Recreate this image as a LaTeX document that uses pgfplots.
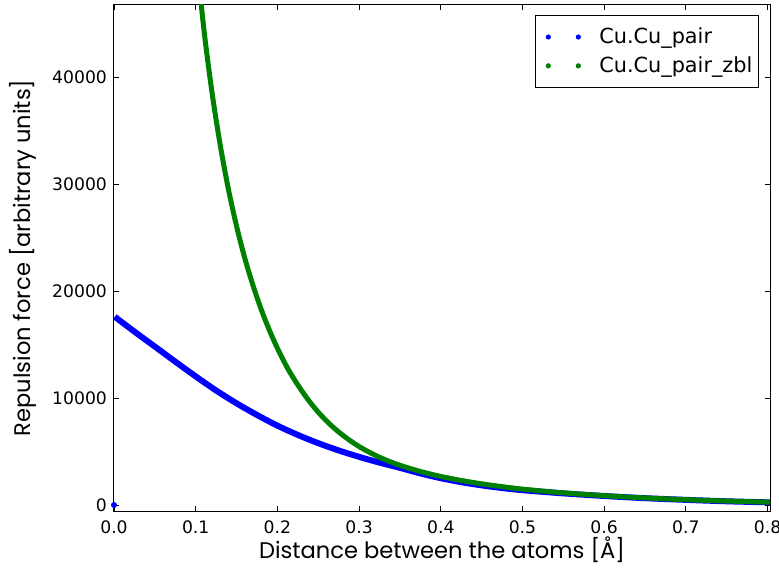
\documentclass[border=0pt]{standalone}
\usepackage{fontspec}
\setmainfont{DejaVu Sans}
\newfontfamily\labelfont{Poppins}
\usepackage{pgfplots}
\pgfplotsset{compat=1.18}
\definecolor{mplblue}{RGB}{0,0,255}
\definecolor{mplgreen}{RGB}{0,128,0}
\begin{document}
\begin{tikzpicture}
\begin{axis}[
  name=ax,
  scale only axis,
  width=328pt, height=253pt,
  xmin=0, xmax=0.803,
  ymin=-560, ymax=46800,
  xtick={0,0.1,0.2,0.3,0.4,0.5,0.6,0.7,0.8},
  ytick={0,10000,20000,30000,40000},
  scaled y ticks=false,
  scaled x ticks=false,
  /pgf/number format/assume math mode=true,
  xticklabel style={/pgf/number format/.cd, fixed, fixed zerofill, precision=1, /tikz/.cd, font=\fontsize{8.6}{10}\selectfont, yshift=-1.5pt},
  yticklabel style={/pgf/number format/.cd, fixed, 1000 sep={}, /tikz/.cd, font=\fontsize{8.6}{10}\selectfont},
  tick align=inside,
  xtick pos=both, ytick pos=both,
  major tick length=2.5pt,
  tick style={black, line width=0.4pt},
  axis line style={black, line width=0.5pt},
  xlabel={Distance between the atoms [Å]},
  ylabel={Repulsion force [arbitrary units]},
  xlabel style={font=\labelfont\fontsize{11.3}{14}\selectfont, at={(axis description cs:0.5,-0.0771)}, anchor=center},
  ylabel style={font=\labelfont\fontsize{11.3}{14}\selectfont, at={(axis description cs:-0.1387,0.5)}, anchor=center},
  legend style={at={(0.983,0.980)}, anchor=north east, draw=black, line width=0.5pt,
    font=\fontsize{10.4}{12}\selectfont, row sep=1pt, inner xsep=1pt, inner ysep=4pt},
  legend cell align=left,
  legend image code/.code={
    \path[draw=none] (0pt,0pt) -- (29pt,0pt);
    \fill[draw=none] (5.5pt,0pt) circle (1.3pt);
    \fill[draw=none] (20.5pt,0pt) circle (1.3pt);
  },
]
\addplot[mplblue, line width=3.0pt, smooth, forget plot] coordinates {
(0.001,17620) (0.025,16230) (0.05,14830) (0.075,13420) (0.1,12040)
(0.125,10720) (0.15,9520) (0.175,8430) (0.2,7430) (0.225,6560)
(0.25,5790) (0.275,5110) (0.3,4510) (0.325,3970) (0.35,3480)
(0.375,2960) (0.4,2510) (0.425,2140) (0.45,1840) (0.475,1590)
(0.5,1390) (0.55,1090) (0.6,845) (0.65,640) (0.7,483)
(0.75,349) (0.8,252) (0.803,245)
};
\addplot[mplblue, only marks, mark=*, mark size=1.3pt, forget plot] coordinates {(0,0)};
\addplot[mplgreen, line width=2.5pt, smooth, forget plot] coordinates {
(0.1,52000) (0.11,44540) (0.12,38600) (0.13,33700) (0.14,29580)
(0.15,26110) (0.16,23130) (0.17,20590) (0.18,18350) (0.19,16400)
(0.2,14680) (0.2125,12800) (0.225,11240) (0.2375,9870) (0.25,8690)
(0.2625,7690) (0.275,6840) (0.2875,6110) (0.3,5475) (0.3125,4940)
(0.325,4470) (0.3375,4070) (0.35,3720) (0.375,3140) (0.4,2675)
(0.425,2300) (0.45,1985) (0.475,1720) (0.5,1490)
(0.55,1139) (0.6,873) (0.65,667) (0.7,504) (0.75,373)
(0.8,271) (0.803,265)
};
\addlegendimage{mplblue}
\addlegendentry{Cu.Cu\_pair}
\addlegendimage{mplgreen}
\addlegendentry{Cu.Cu\_pair\_zbl}
\end{axis}
\pgfresetboundingbox
\path ([shift={(-57pt,-28.5pt)}]ax.south west) rectangle ([shift={(4.5pt,2.5pt)}]ax.north east);
\end{tikzpicture}
\end{document}
